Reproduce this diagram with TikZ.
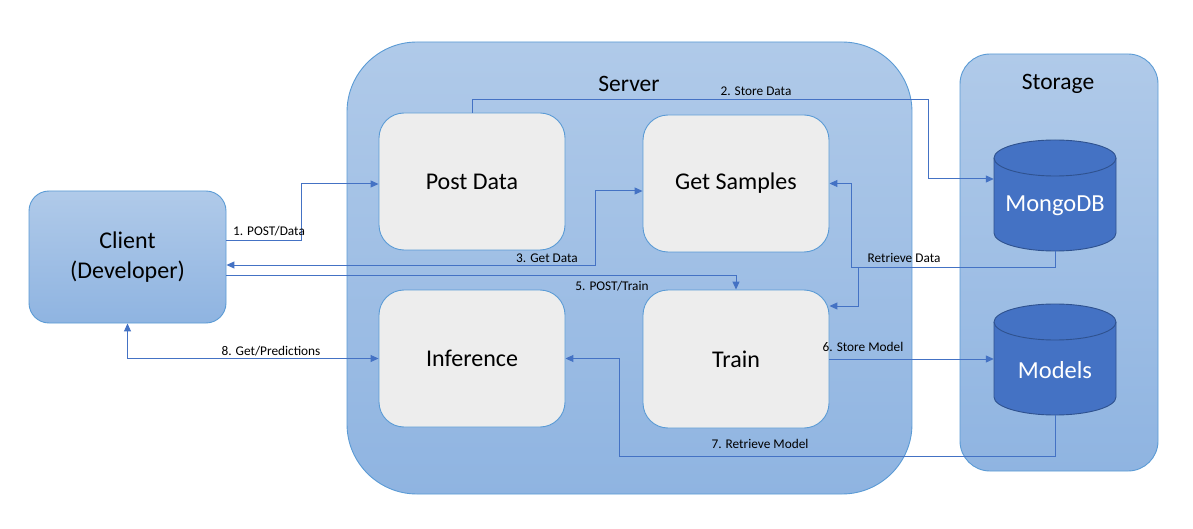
\documentclass[tikz,border=0pt]{standalone}
\usepackage{fontspec}
\setmainfont{Carlito}
\usetikzlibrary{arrows.meta,calc}
\definecolor{lineblue}{HTML}{4472C4}
\definecolor{edgeblue}{HTML}{5B9BD5}
\definecolor{grptop}{HTML}{B0CAE9}
\definecolor{grpbot}{HTML}{8FB4E1}
\definecolor{boxgray}{HTML}{EDEDED}
\definecolor{cylfill}{HTML}{4472C4}
\definecolor{cyledge}{HTML}{2F528F}
\tikzset{
  group/.style={draw=edgeblue, line width=0.9pt, top color=grptop, bottom color=grpbot, inner sep=0pt},
  svcbox/.style={draw=edgeblue, line width=0.9pt, fill=boxgray, rounded corners=25pt, minimum width=186pt, minimum height=137pt, inner sep=0pt, font=\fontsize{24}{28}\selectfont},
  conn/.style={draw=lineblue, line width=1pt, -{Triangle[length=8pt,width=7pt]}},
  conntwo/.style={draw=lineblue, line width=1pt, {Triangle[length=8pt,width=7pt]}-{Triangle[length=8pt,width=7pt]}},
  lbl/.style={font=\fontsize{13.3}{15}\selectfont, inner sep=0pt},
  grptitle/.style={font=\fontsize{23.5}{27}\selectfont, inner sep=0pt},
  cyltext/.style={text=white, font=\fontsize{24.5}{28}\selectfont, inner sep=0pt}
}
\begin{document}
\begin{tikzpicture}[x=1pt,y=-1pt]
\useasboundingbox (0,0) rectangle (1193,529);
\fill[white] (0,0) rectangle (1193,529);

% groups
\node[group, rounded corners=70pt, minimum width=565pt, minimum height=452pt] (server) at (629.5,268) {};
\node[group, rounded corners=30pt, minimum width=198pt, minimum height=417pt] (storage) at (1059,262.5) {};
\node[group, rounded corners=20pt, minimum width=197pt, minimum height=132pt, align=center, font=\fontsize{24}{30}\selectfont] (client) at (127.5,257) {Client\\(Developer)};

\node[grptitle] (servertitle) at (629,84) {Server};
\node[grptitle] (storagetitle) at (1058,84) {Storage};

% service boxes
\node[svcbox] (post) at (472,181.5) {\raisebox{-2pt}{Post Data}};
\node[svcbox] (get) at (736,183.5) {\raisebox{-1pt}{Get Samples}};
\node[svcbox] (inference) at (472,358.5) {\raisebox{-1pt}{Inference}};
\node[svcbox, minimum height=138pt] (train) at (736,359) {\raisebox{-1pt}{Train}};

% cylinders
\foreach \cy in {195.5,359.5}{
  \pgfmathsetmacro{\ctop}{\cy-55.5+18}
  \pgfmathsetmacro{\cbot}{\cy+55.5-18}
  \fill[cylfill] (994,\ctop) -- (994,\cbot) arc[start angle=180,end angle=0,x radius=61,y radius=18] -- (1116,\ctop) arc[start angle=0,end angle=-180,x radius=61,y radius=18] -- cycle;
  \draw[cyledge, line width=0.9pt] (994,\ctop) -- (994,\cbot) arc[start angle=180,end angle=0,x radius=61,y radius=18] -- (1116,\ctop);
  \draw[cyledge, line width=0.9pt] (1055,\ctop) ellipse[x radius=61,y radius=18];
}
\node[minimum width=122pt, minimum height=111pt, inner sep=0pt] (mongo) at (1055,195.5) {};
\node[minimum width=122pt, minimum height=111pt, inner sep=0pt] (models) at (1055,359.5) {};
\node[cyltext] (mongotext) at (1055,206) {MongoDB};
\node[cyltext] (modelstext) at (1055,370) {Models};

% connectors
\draw[conn] ([yshift=16pt]client.east) -- ++(75,0) |- ([yshift=-2.5pt]post.west);
\node[lbl] (l1) at (269,231) {1. POST/Data};

\draw[conn] (post.north) |- (928,100) |- ([yshift=16.5pt]mongo.west);
\node[lbl] (l2) at (756,91) {2. Store Data};

\draw[conntwo] ([yshift=-8pt]client.east) -- (595,265) |- ([yshift=-7.5pt]get.west);
\node[lbl, anchor=east] (l3) at (578,258) {3. Get Data};

\draw[conn] ([yshift=-18pt]client.east) -| (train.north);
\node[lbl] (l5) at (612,286) {5. POST/Train};

\draw[conn] (mongo.south) |- (851,267) |- (get.east);
\coordinate (rdsplit) at (868,267);
\draw[conn] (rdsplit) -- (858,267) |- ([yshift=53pt]train.east);
\node[lbl] (lrd) at (904,258) {Retrieve Data};

\draw[conn] (train.east) -- (train.east -| models.west);
\node[lbl] (l6) at (863,347) {6. Store Model};

\draw[conn] (models.south) |- (619,456) |- (inference.east);
\node[lbl] (l7) at (760,444) {7. Retrieve Model};

\draw[conntwo] (client.south) |- (inference.west);
\node[lbl] (l8) at (271,351) {8. Get/Predictions};
\end{tikzpicture}
\end{document}
